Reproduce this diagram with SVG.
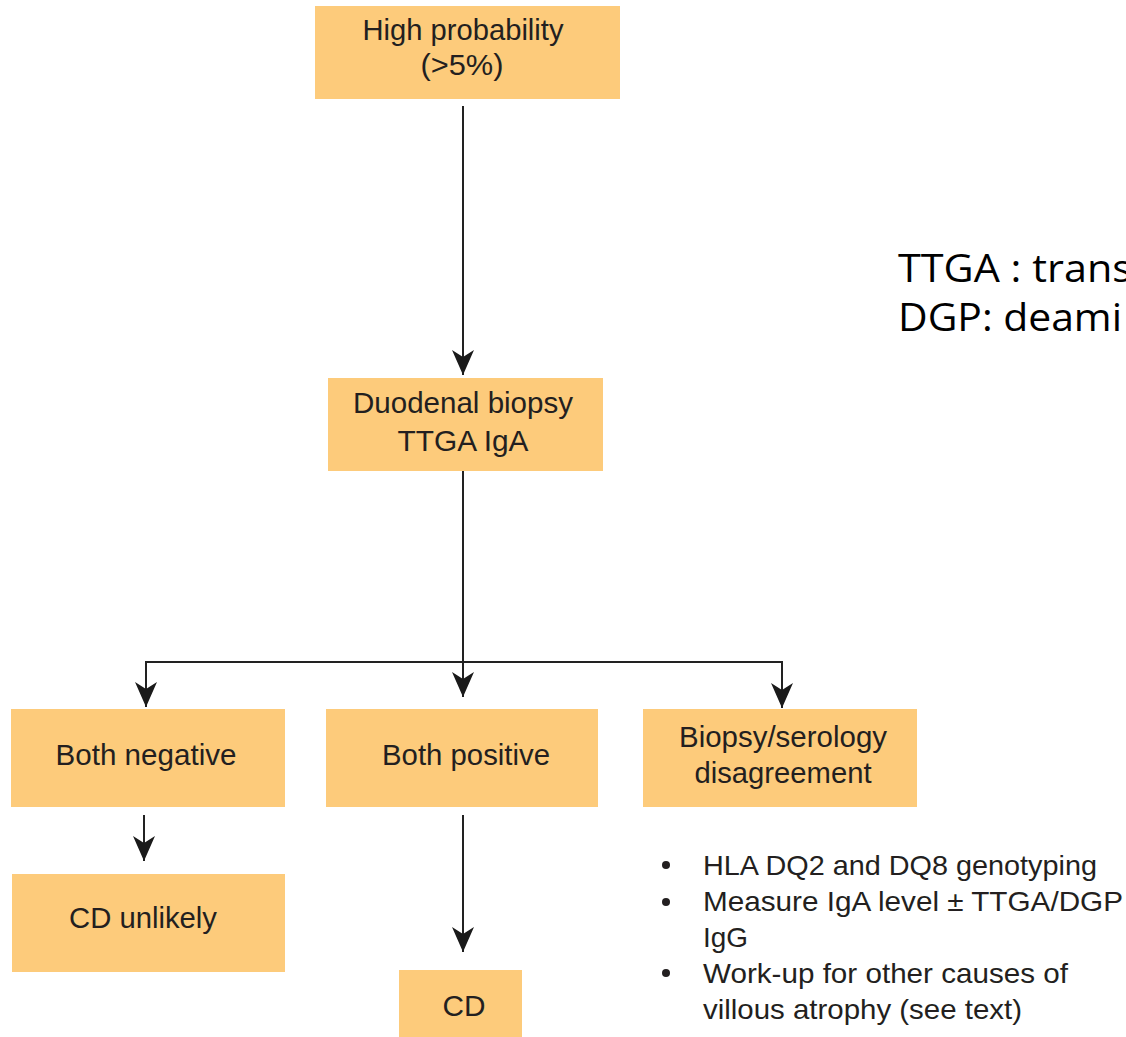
<svg xmlns="http://www.w3.org/2000/svg" width="1126" height="1037" viewBox="0 0 1126 1037">
<defs>
<style>
.box{fill:#FDCB7B;}
.t{font-family:"Liberation Sans",Arial,sans-serif;font-size:29px;fill:#231F20;text-anchor:middle;}
.b{font-family:"Liberation Sans",Arial,sans-serif;font-size:28.5px;fill:#231F20;}
.leg{font-family:"Open Sans","Noto Sans",sans-serif;font-size:38px;fill:#000;}
.ln{stroke:#222;stroke-width:2;fill:none;}
</style>
<marker id="ah" markerUnits="userSpaceOnUse" markerWidth="28" markerHeight="26" viewBox="-26 -13 28 26" refX="0" refY="0" orient="auto">
<path d="M0,0 L-25,-11 L-18,0 L-25,11 Z" fill="#1a1a1a"/>
</marker>
</defs>
<rect width="1126" height="1037" fill="#fff"/>
<g id="connectors">
<line class="ln" x1="463" y1="106" x2="463" y2="375" marker-end="url(#ah)"/>
<line class="ln" x1="463" y1="471" x2="463" y2="697" marker-end="url(#ah)"/>
<polyline class="ln" points="146,707 146,662 782,662 782,708"/>
<line class="ln" x1="146" y1="662" x2="146" y2="707" marker-end="url(#ah)"/>
<line class="ln" x1="782" y1="662" x2="782" y2="708" marker-end="url(#ah)"/>
<line class="ln" x1="144" y1="815" x2="144" y2="861" marker-end="url(#ah)"/>
<line class="ln" x1="463" y1="815" x2="463" y2="952" marker-end="url(#ah)"/>
</g>
<g id="high">
<rect class="box" x="315" y="6" width="305" height="93"/>
<text class="t" x="463" y="40" textLength="201" lengthAdjust="spacingAndGlyphs">High probability</text>
<text class="t" x="462" y="75" textLength="83" lengthAdjust="spacingAndGlyphs">(&gt;5%)</text>
</g>
<g id="biopsy">
<rect class="box" x="328" y="378" width="275" height="93"/>
<text class="t" x="463" y="413" textLength="220" lengthAdjust="spacingAndGlyphs">Duodenal biopsy</text>
<text class="t" x="463" y="451" textLength="131" lengthAdjust="spacingAndGlyphs">TTGA IgA</text>
</g>
<g id="neg">
<rect class="box" x="11" y="709" width="274" height="98"/>
<text class="t" x="146" y="765" textLength="181" lengthAdjust="spacingAndGlyphs">Both negative</text>
</g>
<g id="pos">
<rect class="box" x="326" y="709" width="272" height="98"/>
<text class="t" x="466" y="765" textLength="168" lengthAdjust="spacingAndGlyphs">Both positive</text>
</g>
<g id="disagree">
<rect class="box" x="643" y="709" width="274" height="98"/>
<text class="t" x="783" y="747" textLength="208" lengthAdjust="spacingAndGlyphs">Biopsy/serology</text>
<text class="t" x="783" y="783" textLength="177" lengthAdjust="spacingAndGlyphs">disagreement</text>
</g>
<g id="unlikely">
<rect class="box" x="12" y="874" width="273" height="98"/>
<text class="t" x="143" y="928" textLength="148" lengthAdjust="spacingAndGlyphs">CD unlikely</text>
</g>
<g id="cd">
<rect class="box" x="399" y="970" width="123" height="70"/>
<text class="t" x="464" y="1016" textLength="43" lengthAdjust="spacingAndGlyphs">CD</text>
</g>
<g id="bullets">
<circle cx="666" cy="865" r="4" fill="#231F20"/>
<circle cx="666" cy="902" r="4" fill="#231F20"/>
<circle cx="666" cy="973" r="4" fill="#231F20"/>
<text class="b" x="703" y="875" textLength="394" lengthAdjust="spacingAndGlyphs">HLA DQ2 and DQ8 genotyping</text>
<text class="b" x="703" y="911" textLength="420" lengthAdjust="spacingAndGlyphs">Measure IgA level ± TTGA/DGP</text>
<text class="b" x="703" y="947" textLength="45" lengthAdjust="spacingAndGlyphs">IgG</text>
<text class="b" x="703" y="983" textLength="365" lengthAdjust="spacingAndGlyphs">Work-up for other causes of</text>
<text class="b" x="703" y="1019" textLength="319" lengthAdjust="spacingAndGlyphs">villous atrophy (see text)</text>
</g>
<g id="legend">
<text class="leg" x="898" y="282" textLength="234" lengthAdjust="spacingAndGlyphs">TTGA : trans</text>
<text class="leg" x="898" y="331" textLength="224" lengthAdjust="spacingAndGlyphs">DGP: deami</text>
</g>
</svg>
